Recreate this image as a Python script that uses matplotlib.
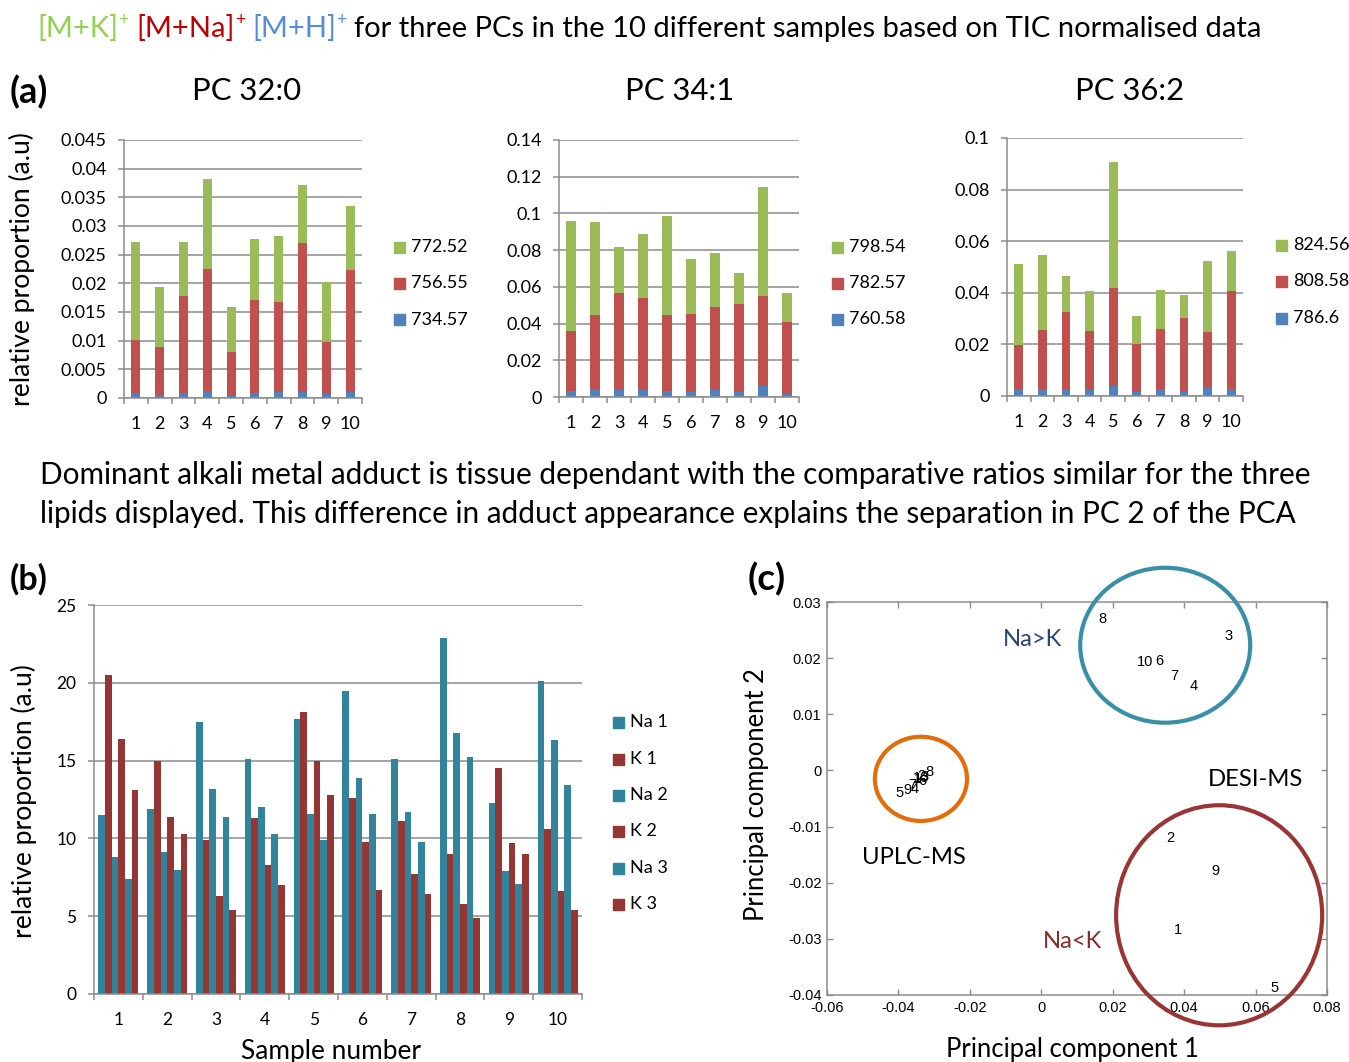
import matplotlib
matplotlib.use('Agg')
import matplotlib.pyplot as plt
from matplotlib.patches import Ellipse, Rectangle
from matplotlib.ticker import FuncFormatter, MultipleLocator
import numpy as np

# ---------------- data ----------------
samples = [1, 2, 3, 4, 5, 6, 7, 8, 9, 10]
pc_titles = ['PC 32:0', 'PC 34:1', 'PC 36:2']

# PC 32:0  (segments: [M+H]+, [M+Na]+, [M+K]+)
pc32_H = [0.0008, 0.0006, 0.0009, 0.0013, 0.0004, 0.0008, 0.0010, 0.0011, 0.0007, 0.0010]
pc32_Na = [0.0094, 0.0083, 0.0169, 0.0212, 0.0077, 0.0163, 0.0158, 0.0259, 0.0090, 0.0213]
pc32_K = [0.0170, 0.0105, 0.0094, 0.0157, 0.0077, 0.0107, 0.0115, 0.0102, 0.0106, 0.0112]
pc32_labels = ['772.52', '756.55', '734.57']

# PC 34:1
pc34_H = [0.0033, 0.0042, 0.0036, 0.0040, 0.0033, 0.0027, 0.0038, 0.0025, 0.0060, 0.0018]
pc34_Na = [0.0327, 0.0405, 0.0528, 0.0500, 0.0414, 0.0424, 0.0451, 0.0484, 0.0489, 0.0391]
pc34_K = [0.0600, 0.0508, 0.0251, 0.0347, 0.0538, 0.0300, 0.0298, 0.0169, 0.0593, 0.0158]
pc34_labels = ['798.54', '782.57', '760.58']

# PC 36:2
pc36_H = [0.0026, 0.0028, 0.0027, 0.0025, 0.0040, 0.0017, 0.0026, 0.0019, 0.0032, 0.0028]
pc36_Na = [0.0173, 0.0227, 0.0298, 0.0228, 0.0379, 0.0184, 0.0235, 0.0282, 0.0217, 0.0380]
pc36_K = [0.0312, 0.0290, 0.0141, 0.0155, 0.0488, 0.0109, 0.0151, 0.0091, 0.0275, 0.0153]
pc36_labels = ['824.56', '808.58', '786.6']

a_ymax = [0.045, 0.14, 0.1]
a_ystep = [0.005, 0.02, 0.02]

# panel (b)
b_series = ['Na 1', 'K 1', 'Na 2', 'K 2', 'Na 3', 'K 3']
b_Na1 = [11.5, 11.9, 17.5, 15.1, 17.7, 19.5, 15.1, 22.9, 12.3, 20.1]
b_K1 = [20.5, 15.0, 9.9, 11.3, 18.1, 12.6, 11.1, 9.0, 14.5, 10.6]
b_Na2 = [8.8, 9.1, 13.2, 12.0, 11.6, 13.9, 11.7, 16.8, 7.9, 16.3]
b_K2 = [16.4, 11.4, 6.3, 8.3, 15.0, 9.8, 7.7, 5.8, 9.7, 6.6]
b_Na3 = [7.4, 8.0, 11.4, 10.3, 9.9, 11.6, 9.8, 15.2, 7.1, 13.4]
b_K3 = [13.1, 10.3, 5.4, 7.0, 12.8, 6.7, 6.4, 4.9, 9.0, 5.4]

# panel (c) PCA scores (label positions)
desi_labels = ['8', '3', '10', '6', '7', '4', '2', '9', '1', '5']
desi_pc1 = [0.0170, 0.0523, 0.0290, 0.0330, 0.0372, 0.0428, 0.0360, 0.0489, 0.0383, 0.0654]
desi_pc2 = [0.0270, 0.0239, 0.0193, 0.0195, 0.0168, 0.0150, -0.0120, -0.0179, -0.0284, -0.0388]
uplc_labels = ['5', '9', '7', '4', '1', '10', '2', '6', '3', '8']
uplc_pc1 = [-0.0398, -0.0376, -0.0362, -0.0354, -0.0345, -0.0337, -0.0337, -0.0334, -0.0328, -0.0314]
uplc_pc2 = [-0.0040, -0.0035, -0.0026, -0.0033, -0.0015, -0.0013, -0.0010, -0.0019, -0.0012, -0.0003]

# ---------------- style ----------------
W, H = 1349, 1062
plt.rcParams['axes.unicode_minus'] = False
FONT = 'Lato'
ARIAL = 'Liberation Sans'
GREEN, RED, BLUE = '#9bbb59', '#c0504d', '#4f81bd'
TEAL, DRED = '#31849b', '#943634'
GRID = '#8c8c8c'

fig = plt.figure(figsize=(W / 100, H / 100), dpi=100)
renderer = fig.canvas.get_renderer()


def px_rect(l, t, r, b):
    return [l / W, 1 - b / H, (r - l) / W, (b - t) / H]


def ftext(x, y, s, **kw):
    kw.setdefault('family', FONT)
    return fig.text(x / W, 1 - y / H, s, **kw)


def fit(t, target, dim='w'):
    bb = t.get_window_extent(renderer)
    cur = bb.width if dim == 'w' else bb.height
    t.set_fontsize(t.get_fontsize() * target / cur)
    return t.get_fontsize()


def gfmt(v, pos=None):
    v = round(v, 6)
    if abs(v) < 1e-12:
        return '0'
    return f'{v:g}'


def excel_axes(ax, ymax, ystep, fs, xpad):
    ax.set_xlim(0.5, 10.5)
    ax.set_ylim(0, ymax)
    ax.yaxis.set_major_locator(MultipleLocator(ystep))
    ax.yaxis.set_major_formatter(FuncFormatter(gfmt))
    ax.set_axisbelow(True)
    ax.yaxis.grid(True, color=GRID, lw=1.1)
    for s in ['top', 'right']:
        ax.spines[s].set_visible(False)
    for s in ['left', 'bottom']:
        ax.spines[s].set_color(GRID)
        ax.spines[s].set_linewidth(1.1)
    ax.set_xticks(samples)
    ax.set_xticklabels([str(s) for s in samples])
    ax.set_xticks(np.arange(0.5, 11, 1), minor=True)
    ax.tick_params(axis='x', which='major', length=0, pad=xpad, labelsize=fs)
    ax.tick_params(axis='x', which='minor', length=4.5, width=1.1, color=GRID, direction='out')
    ax.tick_params(axis='y', which='major', length=4.5, width=1.1, color=GRID, direction='out',
                   pad=8, labelsize=fs)
    for lab in ax.get_xticklabels() + ax.get_yticklabels():
        lab.set_family(FONT)


def manual_legend(x_sq, ys, colors, labels, sq, fs):
    for y, c, lab in zip(ys, colors, labels):
        fig.patches.append(Rectangle((x_sq / W, 1 - (y + sq / 2) / H), sq / W, sq / H,
                                     transform=fig.transFigure, color=c, figure=fig))
        ftext(x_sq + sq + 6, y, lab, va='center', ha='left', fontsize=fs)


# ---------------- panel (a) ----------------
a_boxes = [(124, 140, 362, 398), (559, 140, 799, 397), (1007, 138, 1243, 396)]
a_data = [(pc32_H, pc32_Na, pc32_K, pc32_labels),
          (pc34_H, pc34_Na, pc34_K, pc34_labels),
          (pc36_H, pc36_Na, pc36_K, pc36_labels)]
a_leg = [(394, [247, 283, 320]), (832, [247, 283, 319]), (1276, [245, 281, 318])]
for i in range(3):
    ax = fig.add_axes(px_rect(*a_boxes[i]))
    h, na, k, labs = a_data[i]
    h = np.array(h); na = np.array(na); k = np.array(k)
    bw = 0.38
    ax.bar(samples, h, bw, color=BLUE, lw=0)
    ax.bar(samples, na, bw, bottom=h, color=RED, lw=0)
    ax.bar(samples, k, bw, bottom=h + na, color=GREEN, lw=0)
    excel_axes(ax, a_ymax[i], a_ystep[i], 13, 13)
    manual_legend(a_leg[i][0], a_leg[i][1], [GREEN, RED, BLUE], labs, 11, 13)

# ---------------- panel (b) ----------------
axb = fig.add_axes(px_rect(94, 605, 582, 994))
b_vals = [b_Na1, b_K1, b_Na2, b_K2, b_Na3, b_K3]
b_cols = [TEAL, DRED, TEAL, DRED, TEAL, DRED]
bw = 0.137
x = np.array(samples, dtype=float)
for j, (vals, c) in enumerate(zip(b_vals, b_cols)):
    axb.bar(x + (j - 2.5) * bw, vals, bw, color=c, lw=0)
excel_axes(axb, 25, 5, 12.5, 13)
manual_legend(613, [722, 759, 795, 831, 868, 904], b_cols, b_series, 11, 13)

# ---------------- panel (c) ----------------
axc = fig.add_axes(px_rect(827, 602, 1327, 995))
axc.set_xlim(-0.06, 0.08)
axc.set_ylim(-0.04, 0.03)
axc.xaxis.set_major_locator(MultipleLocator(0.02))
axc.yaxis.set_major_locator(MultipleLocator(0.01))
axc.xaxis.set_major_formatter(FuncFormatter(gfmt))
axc.yaxis.set_major_formatter(FuncFormatter(gfmt))
for s in axc.spines.values():
    s.set_color(GRID)
    s.set_linewidth(1.1)
axc.tick_params(axis='both', which='major', direction='in', length=4, width=1, color=GRID,
                top=True, right=True, labelsize=10.5, pad=4)
for lab in axc.get_xticklabels() + axc.get_yticklabels():
    lab.set_family(ARIAL)
for xx, yy, lab in zip(desi_pc1, desi_pc2, desi_labels):
    axc.text(xx, yy, lab, ha='center', va='center', fontsize=10.5, family=ARIAL)
for xx, yy, lab in zip(uplc_pc1, uplc_pc2, uplc_labels):
    axc.text(xx, yy, lab, ha='center', va='center', fontsize=10.5, family=ARIAL)
axc.add_patch(Ellipse((0.0347, 0.0223), 0.0476, 0.0276, fill=False, ec='#3a8fa8', lw=3,
                      clip_on=False, zorder=5))
axc.add_patch(Ellipse((0.0498, -0.0258), 0.0577, 0.0392, fill=False, ec='#9a3535', lw=3,
                      clip_on=False, zorder=5))
axc.add_patch(Ellipse((-0.0337, -0.0015), 0.0258, 0.0150, fill=False, ec='#e46c0a', lw=3,
                      clip_on=False, zorder=5))

t = ftext(914, 858, 'UPLC-MS', ha='center', va='center', fontsize=16)
cfs = fit(t, 104)
ftext(1256, 779, 'DESI-MS', ha='center', va='center', fontsize=cfs)
ftext(1033, 640, 'Na>K', ha='center', va='center', fontsize=cfs, color='#2a4677')
ftext(1073, 942, 'Na<K', ha='center', va='center', fontsize=cfs, color='#8b2b2b')

t = ftext(1073, 1050, 'Principal component 1', ha='center', va='center', fontsize=16)
pfs = fit(t, 254)
ftext(757, 795, 'Principal component 2', ha='center', va='center', rotation=90, fontsize=pfs)

# ---------------- texts ----------------
t = ftext(22, 269, 'relative proportion (a.u)', ha='center', va='center', rotation=90, fontsize=16)
yfs = fit(t, 275, 'h')
ftext(24, 801, 'relative proportion (a.u)', ha='center', va='center', rotation=90, fontsize=yfs)
t = ftext(331, 1052, 'Sample number', ha='center', va='center', fontsize=16)
fit(t, 180)

t = ftext(247, 100, pc_titles[0], ha='center', va='baseline', fontsize=20)
tfs = fit(t, 109)
ftext(680, 100, pc_titles[1], ha='center', va='baseline', fontsize=tfs)
ftext(1130, 100, pc_titles[2], ha='center', va='baseline', fontsize=tfs)

for lab, xx, yy in [('(a)', 10, 103), ('(b)', 10, 590), ('(c)', 748, 590)]:
    t = ftext(xx, yy, lab, ha='left', va='baseline', fontsize=20, weight='bold')
    fit(t, 38)

line1 = 'Dominant alkali metal adduct is tissue dependant with the comparative ratios similar for the three'
line2 = 'lipids displayed. This difference in adduct appearance explains the separation in PC 2 of the PCA'
t = ftext(40, 484, line1, ha='left', va='baseline', fontsize=20)
lfs = fit(t, 1277)
ftext(40, 523, line2, ha='left', va='baseline', fontsize=lfs)

# title with coloured adduct labels
runs = [('[M+K]', '#92d050', False), ('+', '#92d050', True),
        ('[M+Na]', '#c00000', False), ('+', '#c00000', True),
        ('[M+H]', '#558ed5', False), ('+', '#558ed5', True),
        ('for three PCs in the 10 different samples based on TIC normalised data', 'black', False)]


def draw_runs(size, x0, base):
    arts = []
    xcur = x0
    for i, (s, c, sup) in enumerate(runs):
        fs = size * 0.6 if sup else size
        yy = base - (size * 0.42 * 100 / 72 if sup else 0)
        tt = ftext(xcur, yy, s, color=c, fontsize=fs, ha='left', va='baseline')
        bb = tt.get_window_extent(renderer)
        xcur = bb.x1 + (size * 0.25 * 100 / 72 if sup else 0.5)
        arts.append(tt)
    return arts, xcur - x0


arts, wtot = draw_runs(20, 37, 37)
for a in arts:
    a.remove()
draw_runs(20 * 1226 / wtot, 37, 37)

fig.savefig('out.png', dpi=100)
